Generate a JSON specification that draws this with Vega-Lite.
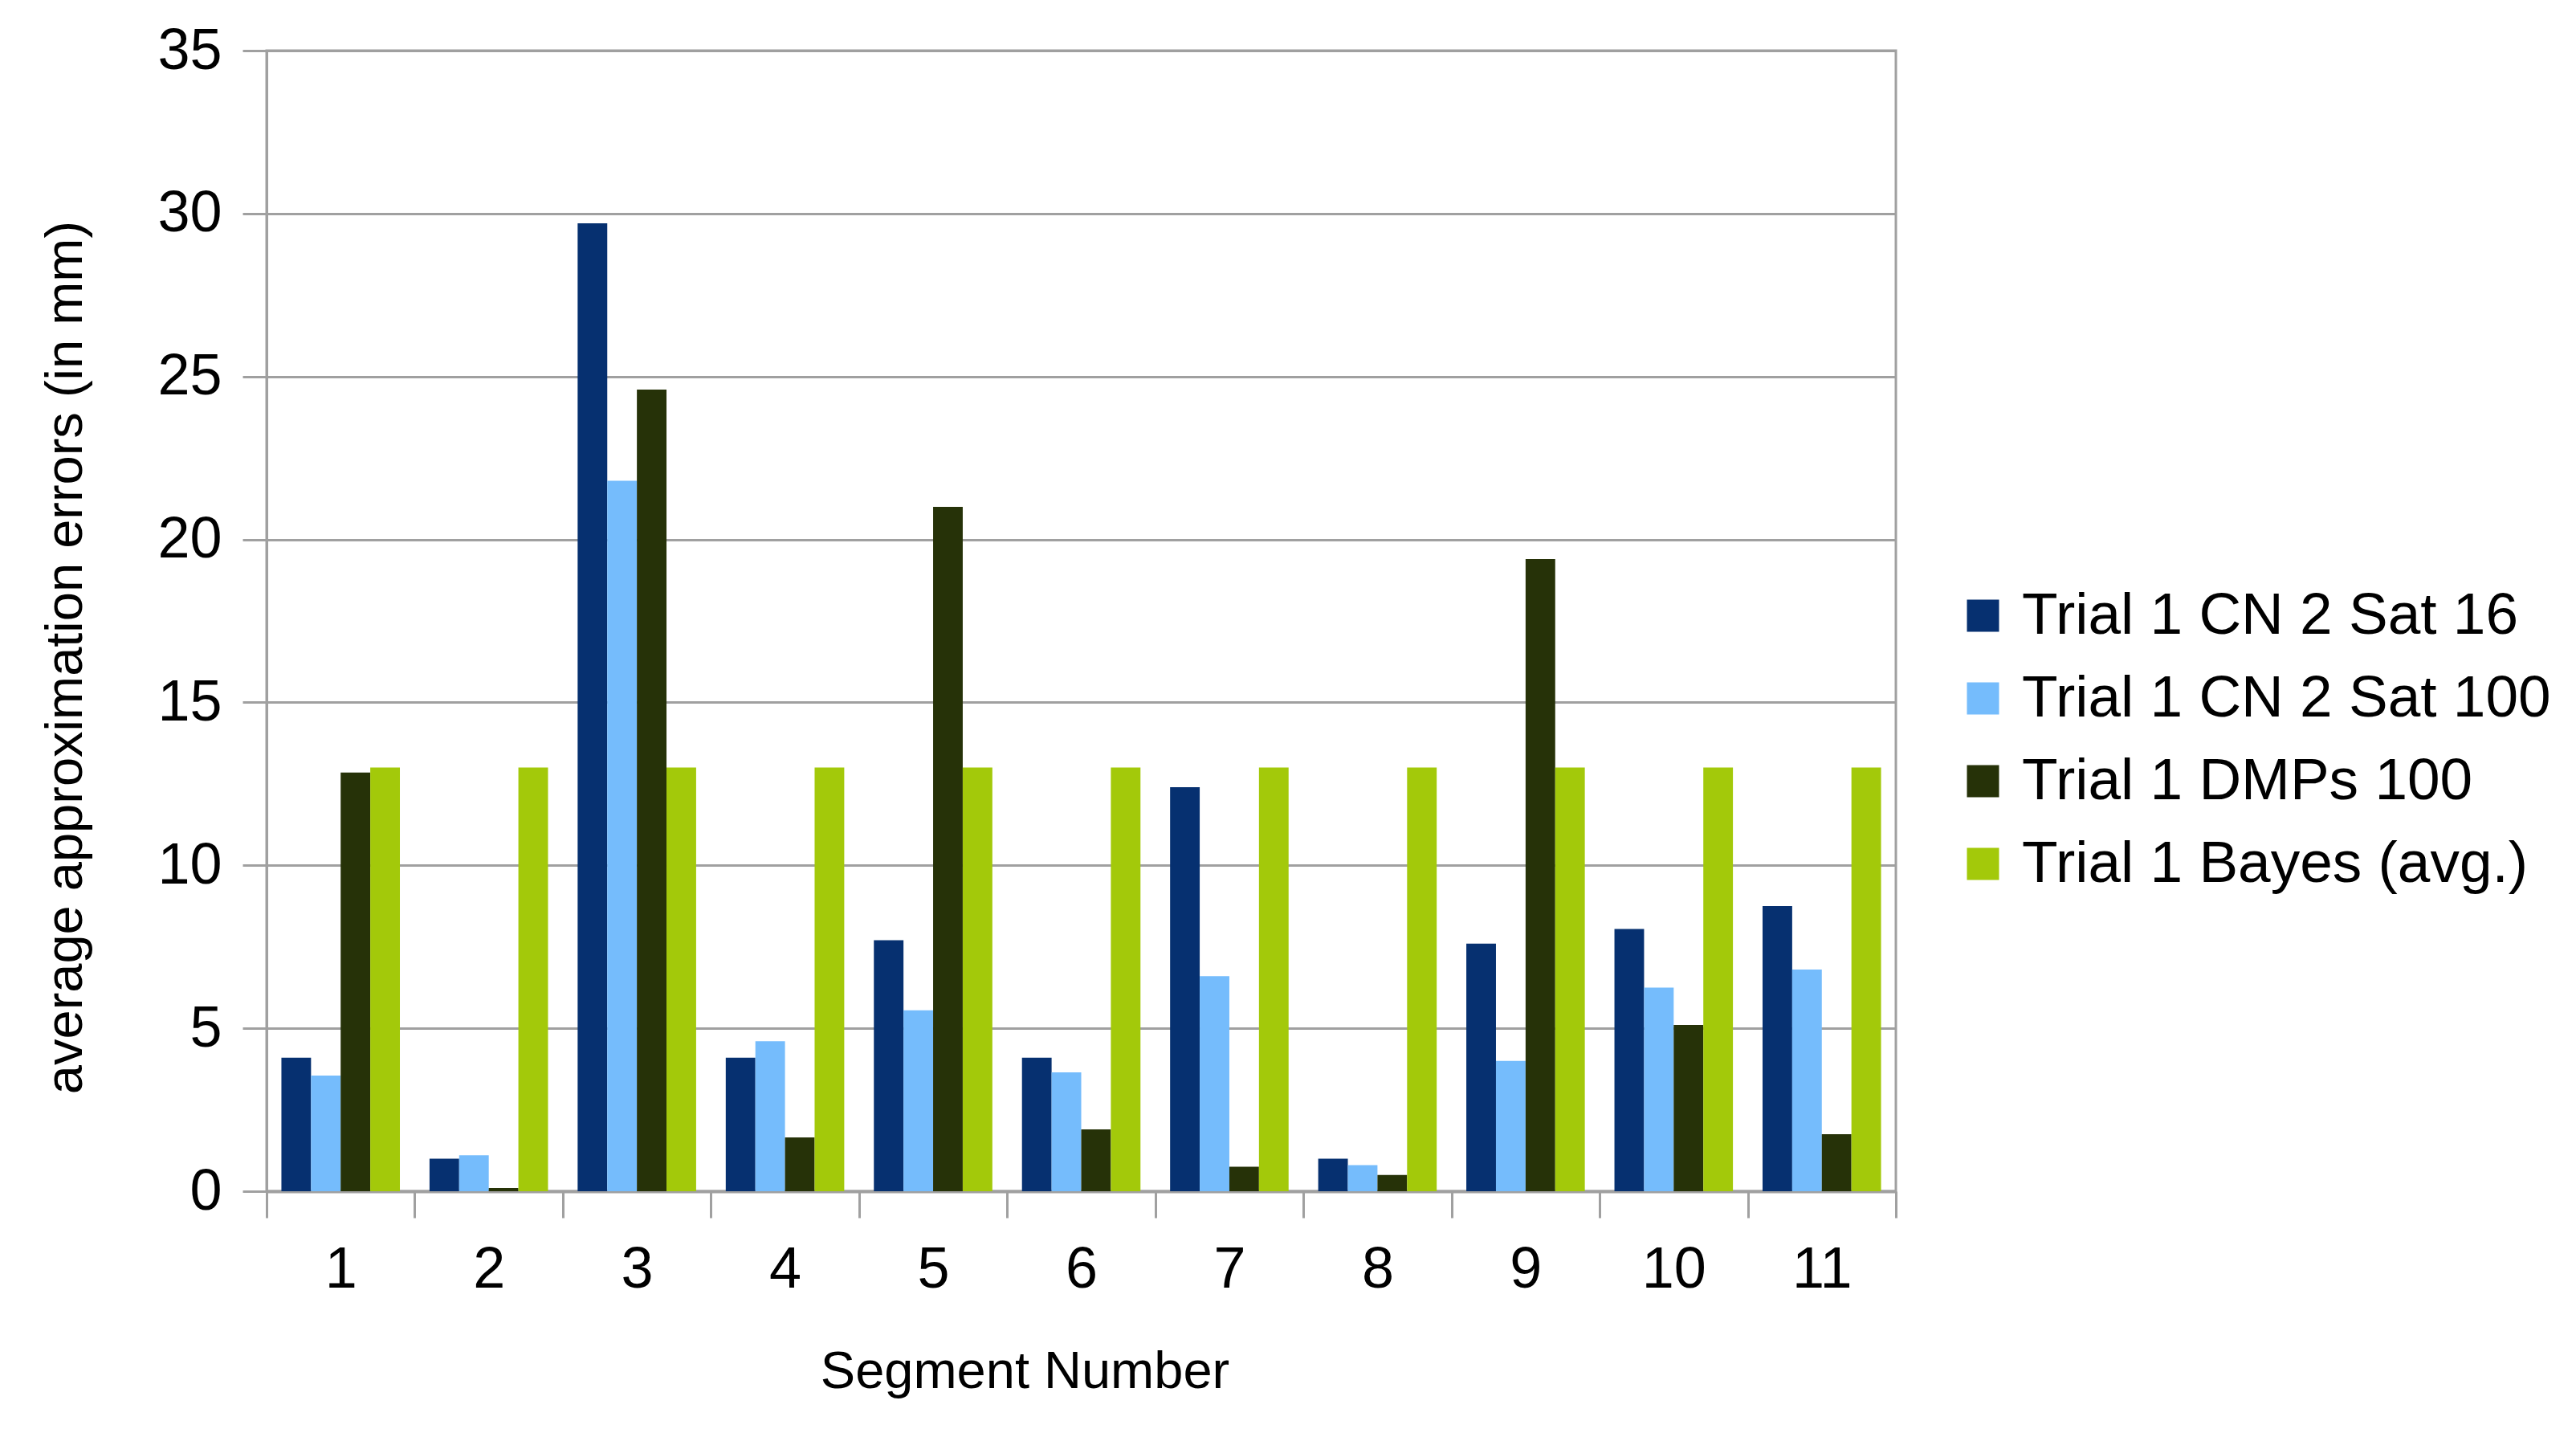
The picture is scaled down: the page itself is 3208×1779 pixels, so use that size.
{
  "$schema": "https://vega.github.io/schema/vega-lite/v6.json",
  "autosize": {"type": "none"},
  "width": 2029,
  "height": 1420,
  "padding": {"left": 332, "top": 63, "right": 847, "bottom": 296},
  "background": "white",
  "config": {
    "font": "Liberation Sans",
    "view": {"stroke": "#a0a0a0", "strokeWidth": 3}
  },
  "data": {
    "values": [
      {"segment": 1, "series": "Trial 1 CN 2 Sat 16", "value": 4.1},
      {"segment": 1, "series": "Trial 1 CN 2 Sat 100", "value": 3.55},
      {"segment": 1, "series": "Trial 1 DMPs 100", "value": 12.85},
      {"segment": 1, "series": "Trial 1 Bayes (avg.)", "value": 13.0},
      {"segment": 2, "series": "Trial 1 CN 2 Sat 16", "value": 1.0},
      {"segment": 2, "series": "Trial 1 CN 2 Sat 100", "value": 1.1},
      {"segment": 2, "series": "Trial 1 DMPs 100", "value": 0.1},
      {"segment": 2, "series": "Trial 1 Bayes (avg.)", "value": 13.0},
      {"segment": 3, "series": "Trial 1 CN 2 Sat 16", "value": 29.7},
      {"segment": 3, "series": "Trial 1 CN 2 Sat 100", "value": 21.8},
      {"segment": 3, "series": "Trial 1 DMPs 100", "value": 24.6},
      {"segment": 3, "series": "Trial 1 Bayes (avg.)", "value": 13.0},
      {"segment": 4, "series": "Trial 1 CN 2 Sat 16", "value": 4.1},
      {"segment": 4, "series": "Trial 1 CN 2 Sat 100", "value": 4.6},
      {"segment": 4, "series": "Trial 1 DMPs 100", "value": 1.65},
      {"segment": 4, "series": "Trial 1 Bayes (avg.)", "value": 13.0},
      {"segment": 5, "series": "Trial 1 CN 2 Sat 16", "value": 7.7},
      {"segment": 5, "series": "Trial 1 CN 2 Sat 100", "value": 5.55},
      {"segment": 5, "series": "Trial 1 DMPs 100", "value": 21.0},
      {"segment": 5, "series": "Trial 1 Bayes (avg.)", "value": 13.0},
      {"segment": 6, "series": "Trial 1 CN 2 Sat 16", "value": 4.1},
      {"segment": 6, "series": "Trial 1 CN 2 Sat 100", "value": 3.65},
      {"segment": 6, "series": "Trial 1 DMPs 100", "value": 1.9},
      {"segment": 6, "series": "Trial 1 Bayes (avg.)", "value": 13.0},
      {"segment": 7, "series": "Trial 1 CN 2 Sat 16", "value": 12.4},
      {"segment": 7, "series": "Trial 1 CN 2 Sat 100", "value": 6.6},
      {"segment": 7, "series": "Trial 1 DMPs 100", "value": 0.75},
      {"segment": 7, "series": "Trial 1 Bayes (avg.)", "value": 13.0},
      {"segment": 8, "series": "Trial 1 CN 2 Sat 16", "value": 1.0},
      {"segment": 8, "series": "Trial 1 CN 2 Sat 100", "value": 0.8},
      {"segment": 8, "series": "Trial 1 DMPs 100", "value": 0.5},
      {"segment": 8, "series": "Trial 1 Bayes (avg.)", "value": 13.0},
      {"segment": 9, "series": "Trial 1 CN 2 Sat 16", "value": 7.6},
      {"segment": 9, "series": "Trial 1 CN 2 Sat 100", "value": 4.0},
      {"segment": 9, "series": "Trial 1 DMPs 100", "value": 19.4},
      {"segment": 9, "series": "Trial 1 Bayes (avg.)", "value": 13.0},
      {"segment": 10, "series": "Trial 1 CN 2 Sat 16", "value": 8.05},
      {"segment": 10, "series": "Trial 1 CN 2 Sat 100", "value": 6.25},
      {"segment": 10, "series": "Trial 1 DMPs 100", "value": 5.1},
      {"segment": 10, "series": "Trial 1 Bayes (avg.)", "value": 13.0},
      {"segment": 11, "series": "Trial 1 CN 2 Sat 16", "value": 8.75},
      {"segment": 11, "series": "Trial 1 CN 2 Sat 100", "value": 6.8},
      {"segment": 11, "series": "Trial 1 DMPs 100", "value": 1.75},
      {"segment": 11, "series": "Trial 1 Bayes (avg.)", "value": 13.0}
    ]
  },
  "mark": {"type": "bar"},
  "encoding": {
    "x": {
      "field": "segment",
      "type": "ordinal",
      "scale": {"paddingInner": 0, "paddingOuter": 0},
      "axis": {
        "title": "Segment Number",
        "titleFontSize": 65,
        "titleFontWeight": "normal",
        "titleColor": "black",
        "titlePadding": 60,
        "titleX": 944,
        "labelAngle": 0,
        "labelFontSize": 72,
        "labelColor": "black",
        "labelPadding": 29,
        "tickBand": "extent",
        "tickSize": 33,
        "tickWidth": 3,
        "tickColor": "#a0a0a0",
        "domainColor": "#a0a0a0",
        "domainWidth": 4
      }
    },
    "xOffset": {
      "field": "series",
      "sort": ["Trial 1 CN 2 Sat 16", "Trial 1 CN 2 Sat 100", "Trial 1 DMPs 100", "Trial 1 Bayes (avg.)"],
      "scale": {"paddingInner": 0, "paddingOuter": 0.5}
    },
    "y": {
      "field": "value",
      "type": "quantitative",
      "scale": {"domain": [0, 35], "nice": false},
      "axis": {
        "values": [0, 5, 10, 15, 20, 25, 30, 35],
        "title": "average approximation errors (in mm)",
        "titleFontSize": 65,
        "titleFontWeight": "normal",
        "titleColor": "black",
        "titlePadding": 80,
        "titleY": 755,
        "labelFontSize": 72,
        "labelColor": "black",
        "labelPadding": 26,
        "tickSize": 30,
        "tickWidth": 3,
        "tickColor": "#a0a0a0",
        "domainColor": "#a0a0a0",
        "domainWidth": 3,
        "gridColor": "#a0a0a0",
        "gridWidth": 3
      }
    },
    "color": {
      "field": "series",
      "type": "nominal",
      "sort": ["Trial 1 CN 2 Sat 16", "Trial 1 CN 2 Sat 100", "Trial 1 DMPs 100", "Trial 1 Bayes (avg.)"],
      "scale": {
        "domain": ["Trial 1 CN 2 Sat 16", "Trial 1 CN 2 Sat 100", "Trial 1 DMPs 100", "Trial 1 Bayes (avg.)"],
        "range": ["#063070", "#75bcfc", "#263208", "#a3c90a"]
      },
      "legend": {
        "title": null,
        "orient": "none",
        "legendX": 2101,
        "legendY": 667,
        "padding": 0,
        "symbolType": "square",
        "symbolSize": 1600,
        "symbolStrokeWidth": 0,
        "labelFontSize": 73,
        "labelColor": "black",
        "labelOffset": 12,
        "rowPadding": 29,
        "labelLimit": 1000
      }
    }
  }
}
